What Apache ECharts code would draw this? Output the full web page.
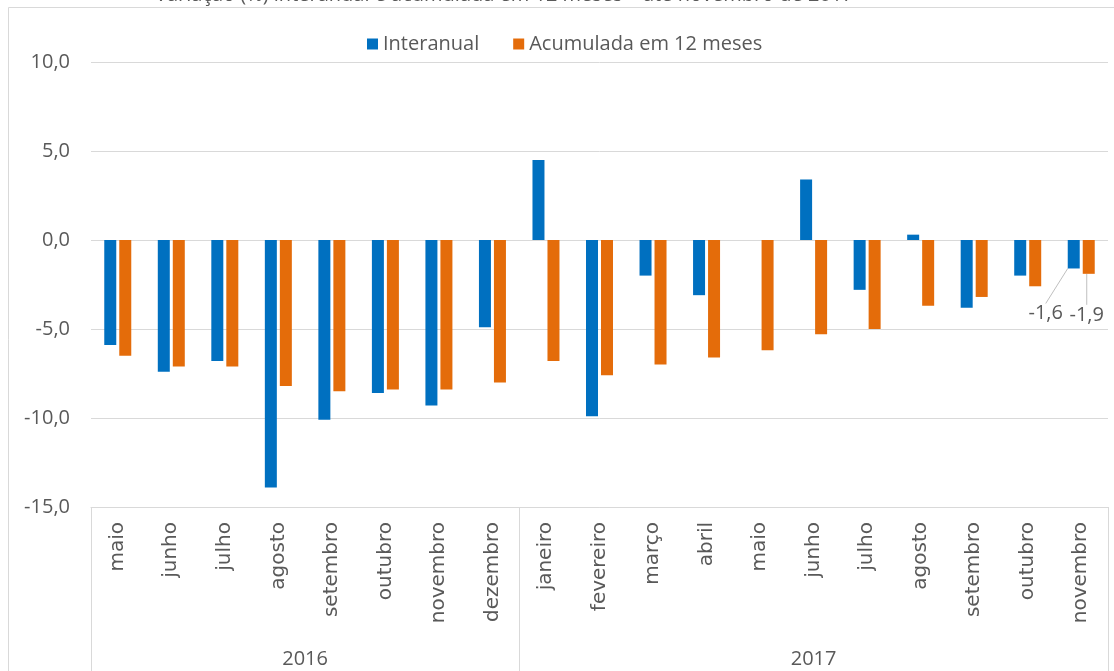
<!DOCTYPE html>
<html>
<head>
<meta charset="utf-8">
<script src="https://cdn.jsdelivr.net/npm/echarts@6/dist/echarts.min.js"></script>
<style>
  html, body { margin: 0; padding: 0; background: #fff; }
  #chart { width: 1114px; height: 671px; }
</style>
</head>
<body>
<div id="chart"></div>
<script>
// dados
var meses = ['maio', 'junho', 'julho', 'agosto', 'setembro', 'outubro', 'novembro', 'dezembro',
  'janeiro', 'fevereiro', 'março', 'abril', 'maio', 'junho', 'julho', 'agosto', 'setembro', 'outubro', 'novembro'];
var anos = ['2016', '2017'];
var mesesPorAno = [8, 11];
var interanual = [-5.9, -7.4, -6.8, -13.9, -10.1, -8.6, -9.3, -4.9,
  4.5, -9.9, -2.0, -3.1, 0.0, 3.4, -2.8, 0.3, -3.8, -2.0, -1.6];
var acumulada = [-6.5, -7.1, -7.1, -8.2, -8.5, -8.4, -8.4, -8.0,
  -6.8, -7.6, -7.0, -6.6, -6.2, -5.3, -5.0, -3.7, -3.2, -2.6, -1.9];
var yMin = -15, yMax = 10, yStep = 5;

var cinza = '#595959';
var linha = '#d9d9d9';
var fonte = '"Open Sans", "Noto Sans", sans-serif';

// inicio de cada ano (para os divisores) e centro (para o rotulo)
var inicios = [], centros = [];
(function () {
  var acc = 0;
  mesesPorAno.forEach(function (n) {
    inicios.push(acc);
    centros.push(acc + n / 2);
    acc += n;
  });
})();

function fmt(v) {
  return Number(v).toFixed(1).replace('.', ',');
}

var ultimo = meses.length - 1;
function comRotulo(arr) {
  return arr.map(function (v, i) {
    if (i !== ultimo) return v;
    return { value: v, label: { show: true } };
  });
}

var option = {
  backgroundColor: '#fff',
  animation: false,
  title: {
    text: 'Variação (%) interanual e acumulada em 12 meses – até novembro de 2017',
    left: 150,
    top: -20,
    textStyle: { fontFamily: fonte, fontSize: 20, fontWeight: 'normal', color: cinza }
  },
  graphic: [{
    type: 'rect',
    left: 6, top: 5, z: -1,
    shape: { width: 1200, height: 800 },
    style: { fill: 'none', stroke: linha, lineWidth: 1 }
  }],
  legend: {
    data: ['Interanual', 'Acumulada em 12 meses'],
    left: 362,
    top: 29,
    icon: 'rect',
    itemWidth: 11,
    itemHeight: 11,
    itemGap: 34,
    textStyle: { fontFamily: fonte, fontSize: 20, color: cinza }
  },
  grid: {
    left: 91, right: 6, top: 62, bottom: 164,
    containLabel: false,
    outerBoundsMode: 'none'
  },
  xAxis: [
    {
      type: 'category',
      data: meses,
      axisLine: { onZero: false, lineStyle: { color: linha } },
      axisTick: {
        show: true,
        length: 164,
        interval: function (i) { return inicios.indexOf(i) >= 0; },
        lineStyle: { color: linha }
      },
      axisLabel: {
        interval: 0,
        rotate: 90,
        margin: 15,
        fontFamily: '"DejaVu Sans", sans-serif',
        fontSize: 20,
        color: cinza
      }
    },
    {
      type: 'value',
      position: 'bottom',
      min: 0,
      max: meses.length,
      interval: 0.5,
      axisLine: { show: false, onZero: false },
      axisTick: { show: false },
      splitLine: { show: false },
      axisLabel: {
        margin: 142,
        fontFamily: fonte,
        fontSize: 20,
        color: cinza,
        formatter: function (v) {
          var k = centros.indexOf(v);
          return k >= 0 ? anos[k] : '';
        }
      }
    }
  ],
  yAxis: {
    type: 'value',
    min: yMin,
    max: yMax,
    interval: yStep,
    axisLine: { show: false },
    axisTick: { show: false },
    splitLine: { lineStyle: { color: linha } },
    axisLabel: {
      margin: 21,
      fontFamily: fonte,
      fontSize: 20,
      color: cinza,
      formatter: fmt
    }
  },
  series: [
    {
      name: 'Interanual',
      type: 'bar',
      barWidth: 12,
      barGap: '25%',
      itemStyle: { color: '#0070c0' },
      label: {
        position: 'bottom',
        fontFamily: fonte,
        fontSize: 20,
        color: cinza,
        formatter: function (p) { return fmt(p.value); }
      },
      labelLayout: { dx: -28, dy: 30 },
      labelLine: { show: true, lineStyle: { color: '#bfbfbf', width: 1 } },
      data: comRotulo(interanual)
    },
    {
      name: 'Acumulada em 12 meses',
      type: 'bar',
      barWidth: 12,
      itemStyle: { color: '#e46c0a' },
      label: {
        position: 'bottom',
        fontFamily: fonte,
        fontSize: 20,
        color: cinza,
        formatter: function (p) { return fmt(p.value); }
      },
      labelLayout: { dx: -2, dy: 26 },
      labelLine: { show: true, lineStyle: { color: '#bfbfbf', width: 1 } },
      data: comRotulo(acumulada)
    }
  ]
};

var myChart = echarts.init(document.getElementById('chart'));
myChart.setOption(option);
</script>
</body>
</html>
